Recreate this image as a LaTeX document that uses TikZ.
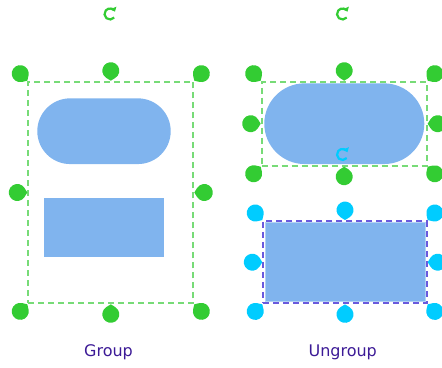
\documentclass[tikz,border=0pt]{standalone}
\usepackage{fontspec}
\setmainfont{DejaVu Sans}
\usetikzlibrary{arrows.meta}
\definecolor{hgreen}{HTML}{33CC33}
\definecolor{selgreen}{HTML}{77DB77}
\definecolor{hcyan}{HTML}{00CCFF}
\definecolor{selblue}{HTML}{6A5ADD}
\definecolor{shapeblue}{HTML}{80B4EE}
\definecolor{labelink}{HTML}{3C1A96}
\begin{document}
\begin{tikzpicture}[
    x=1pt, y=1pt, yscale=-1,
    pill/.style={fill=shapeblue, rounded corners=#1, inner sep=0pt},
    block/.style={fill=shapeblue, inner sep=0pt},
    selbox/.style={draw=#1, dash pattern=on 6pt off 4pt, line width=2pt, inner sep=0pt},
    lbl/.style={text=labelink, font=\fontsize{16}{19}\selectfont, inner sep=0pt},
    pics/handle/.style={code={
        \fill (0,0) -- (-2.78,4.48) arc[start angle=31.8, end angle=328.2, radius=8.5] -- cycle;
    }},
    pics/rotarrow/.style={code={
        \draw[line width=2.2pt, -{Triangle[length=4pt, width=6.5pt]}]
            (-40:5.5) arc[start angle=-40, end angle=-335, radius=5.5];
    }}
]
\useasboundingbox (0,0) rectangle (442,367);

% Group: both shapes in one selection
\node[pill=32.8pt, minimum width=133.4pt, minimum height=65.7pt] (pillA) at (104,131.2) {};
\node[block, minimum width=120pt, minimum height=59pt] (rectA) at (104,227.8) {};
\node[selbox=selgreen, minimum width=165pt, minimum height=221.6pt] (grp) at (110.8,192.5) {};
\foreach \anc/\ang in {north west/45, north/90, north east/135, east/180,
                       south east/225, south/270, south west/315, west/0}
    \pic[fill=hgreen, rotate=-\ang] at (grp.\anc) {handle};
\pic[draw=hgreen] at (110,14) {rotarrow};
\node[lbl] (grplabel) at (108.5,352.7) {Group};

% Ungroup: each shape selected on its own
\node[pill=40.3pt, minimum width=160pt, minimum height=80.7pt] (pillB) at (344.3,123.7) {};
\node[block, draw=shapeblue!60!white, line width=0.8pt, minimum width=160pt, minimum height=79.4pt] (rectB) at (345,262) {};
\node[selbox=selgreen, minimum width=165pt, minimum height=84pt] (selpill) at (344.2,123.7) {};
\node[selbox=selblue, minimum width=163.4pt, minimum height=82.3pt] (selrect) at (345,262.2) {};
\foreach \anc/\ang in {north west/45, north/90, north east/135, east/180,
                       south east/225, south/270, south west/315, west/0}
{
    \pic[fill=hgreen, rotate=-\ang] at (selpill.\anc) {handle};
    \pic[fill=hcyan, rotate=-\ang] at (selrect.\anc) {handle};
}
\pic[draw=hgreen] at (342.5,14) {rotarrow};
\pic[draw=hcyan] at (342.5,154.5) {rotarrow};
\node[lbl] (ungrplabel) at (342.7,352.7) {Ungroup};
\end{tikzpicture}
\end{document}
